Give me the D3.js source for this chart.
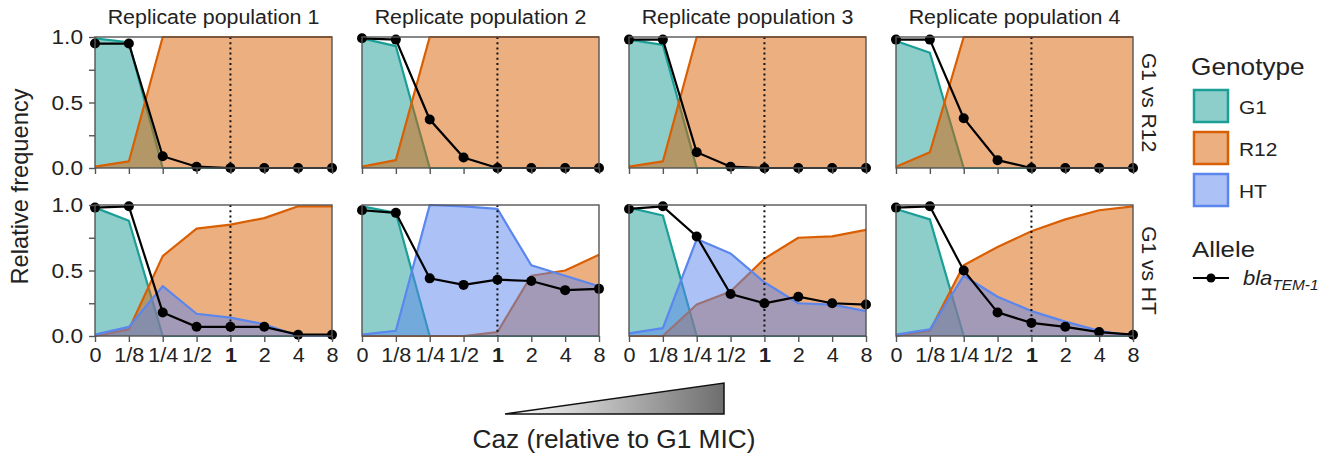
<!DOCTYPE html>
<html><head><meta charset="utf-8">
<script src="https://cdn.jsdelivr.net/npm/d3@7"></script>
<style>
body{margin:0;background:#fff}
svg{display:block}
text{font-family:"Liberation Sans",Arial,sans-serif;fill:#222}
</style>
</head><body>
<svg id="c" width="1340" height="457"></svg>
<script>
// ---------- data ----------
const doses = ["0","1/8","1/4","1/2","1","2","4","8"];
const replicates = ["Replicate population 1","Replicate population 2","Replicate population 3","Replicate population 4"];
const comparisons = ["G1 vs R12","G1 vs HT"];
const genotypes = ["G1","R12","HT"];
const genotypeColors = ["#1b9e96","#d95f02","#5a86ee"];

// G1 vs R12 (top row), one array per replicate population
const topG1 = [
  [0.99,0.96,0,0,0,0,0,0],
  [0.99,0.93,0,0,0,0,0,0],
  [0.98,0.94,0,0,0,0,0,0],
  [0.97,0.88,0,0,0,0,0,0]
];
const topR12 = [
  [0.01,0.05,1,1,1,1,1,1],
  [0.01,0.06,1,1,1,1,1,1],
  [0.01,0.05,1,1,1,1,1,1],
  [0.01,0.12,1,1,1,1,1,1]
];
const topAllele = [
  [0.95,0.95,0.09,0.01,0,0,0,0],
  [0.99,0.98,0.37,0.08,0,0,0,0],
  [0.98,0.98,0.12,0.01,0,0,0,0],
  [0.98,0.98,0.38,0.06,0,0,0,0]
];

// G1 vs HT (bottom row)
const botG1 = [
  [0.98,0.88,0,0,0,0,0,0],
  [0.99,0.94,0,0,0,0,0,0],
  [0.98,0.92,0,0,0,0,0,0],
  [0.97,0.89,0,0,0,0,0,0]
];
const botR12 = [
  [0,0.05,0.61,0.82,0.85,0.90,0.99,0.99],
  [0,0,0,0,0.03,0.46,0.50,0.62],
  [0,0,0.24,0.34,0.59,0.75,0.76,0.81],
  [0,0.04,0.54,0.68,0.80,0.89,0.96,0.99]
];
const botHT = [
  [0.01,0.07,0.38,0.17,0.14,0.09,0,0],
  [0.01,0.04,1.0,0.99,0.97,0.54,0.46,0.38],
  [0.02,0.06,0.74,0.63,0.41,0.25,0.24,0.19],
  [0.01,0.05,0.46,0.30,0.19,0.11,0.04,0.0]
];
const botAllele = [
  [0.98,0.99,0.18,0.07,0.07,0.07,0.01,0.01],
  [0.96,0.94,0.44,0.39,0.43,0.42,0.35,0.36],
  [0.97,0.99,0.76,0.32,0.25,0.30,0.25,0.24],
  [0.98,0.99,0.50,0.18,0.10,0.07,0.03,0.01]
];

const yTicks = [0,0.25,0.5,0.75,1];
const yTickLabels = ["0.0","","0.5","","1.0"];

// ---------- layout ----------
const svg = d3.select("#c");
const L=95, PW=237, GX=30, T=37, PH=131, GY=37;
const x = d3.scaleLinear().domain([0,7]).range([0,PW]);
const y = d3.scaleLinear().domain([0,1]).range([PH,0]);
const alpha = 0.5;

function txt(parent, str, tx, ty, size, sx, opts={}){
  const t = parent.append("text")
    .attr("transform", `translate(${tx},${ty}) ${opts.rot?`rotate(${opts.rot})`:""} scale(${sx},1)`)
    .style("font-size", size+"px")
    .attr("text-anchor", opts.anchor||"start")
    .text(str);
  if(opts.italic) t.style("font-style","italic");
  return t;
}

const area = d3.area().x((d,i)=>x(i)).y0(y(0)).y1(d=>y(d));
const line = d3.line().x((d,i)=>x(i)).y(d=>y(d));

const rows = [
  {series:[topG1, topR12], allele: topAllele},
  {series:[botG1, botR12, botHT], allele: botAllele}
];

rows.forEach((row, r) => {
  for(let c=0;c<4;c++){
    const g = svg.append("g").attr("transform",`translate(${L+c*(PW+GX)},${T+r*(PH+GY)})`);
    g.append("rect").attr("width",PW).attr("height",PH).attr("fill","#fff");
    row.series.forEach((s, k) => {
      g.append("path").datum(s[c]).attr("d",area)
        .attr("fill",genotypeColors[k]).attr("fill-opacity",alpha);
      g.append("path").datum(s[c]).attr("d",line)
        .attr("fill","none").attr("stroke",genotypeColors[k]).attr("stroke-width",2.2)
        .attr("stroke-linejoin","round");
    });
    g.append("line").attr("x1",x(4)).attr("x2",x(4)).attr("y1",0).attr("y2",PH)
      .attr("stroke","#111").attr("stroke-width",2).attr("stroke-dasharray","2,3.2");
    g.append("path").datum(row.allele[c]).attr("d",line)
      .attr("fill","none").attr("stroke","#000").attr("stroke-width",2.2);
    g.selectAll("circle.pt").data(row.allele[c]).enter().append("circle")
      .attr("cx",(d,i)=>x(i)).attr("cy",d=>y(d)).attr("r",5).attr("fill","#000");
    g.append("rect").attr("width",PW).attr("height",PH).attr("fill","none")
      .attr("stroke","#555").attr("stroke-width",1.4);

    // x axis
    const xa = g.append("g").attr("transform",`translate(0,${PH})`)
      .call(d3.axisBottom(x).tickValues(d3.range(8)).tickSize(6).tickPadding(5)
        .tickFormat(i => r===1 ? doses[i] : ""));
    xa.select(".domain").remove();
    xa.selectAll(".tick line").attr("stroke","#555").attr("stroke-width",1.4);
    xa.selectAll(".tick text").style("font-size","21px").attr("fill","#222")
      .style("font-family",'"Liberation Sans",Arial,sans-serif')
      .attr("transform","scale(1.03,1)")
      .style("font-weight",(d)=> d===4 ? "bold" : "normal");

    if(c===0){
      const ya = g.append("g").call(d3.axisLeft(y).tickValues(yTicks).tickSize(6).tickPadding(6)
        .tickFormat((v,i)=>yTickLabels[i]));
      ya.select(".domain").remove();
      ya.selectAll(".tick line").attr("stroke","#555").attr("stroke-width",1.4);
      ya.selectAll(".tick text").style("font-size","21px").attr("fill","#222")
        .style("font-family",'"Liberation Sans",Arial,sans-serif')
        .attr("x",-12/1.08).attr("transform","scale(1.08,1)");
    }
    if(r===0){
      txt(svg, replicates[c], L+c*(PW+GX)+PW/2, 24, 20, 1.07, {anchor:"middle"});
    }
  }
  // strip label
  txt(svg, comparisons[r], L+3*(PW+GX)+PW+9, T+r*(PH+GY)+PH/2, 21, 1.0, {anchor:"middle", rot:90});
});

// y axis title
txt(svg, "Relative frequency", 28, T+(2*PH+GY)/2, 23, 1.03, {anchor:"middle", rot:-90});

// ---------- legend ----------
const lg = svg.append("g");
txt(lg, "Genotype", 1191, 75, 23, 1.14);
genotypes.forEach((gname, i) => {
  const yy = 90 + i*42;
  lg.append("rect").attr("x",1194).attr("y",yy).attr("width",34).attr("height",32)
    .attr("fill",genotypeColors[i]).attr("fill-opacity",alpha)
    .attr("stroke",genotypeColors[i]).attr("stroke-width",2.5);
  txt(lg, gname, 1239, yy+24, 19, 1.1);
});
txt(lg, "Allele", 1192, 257, 23, 1.12);
lg.append("line").attr("x1",1193).attr("x2",1229).attr("y1",278).attr("y2",278)
  .attr("stroke","#000").attr("stroke-width",2.2);
lg.append("circle").attr("cx",1211).attr("cy",278).attr("r",4.5).attr("fill","#000");
const bt = lg.append("text").attr("transform","translate(1243,285) scale(1.1,1)")
  .style("font-size","20px").style("font-style","italic");
bt.append("tspan").text("bla");
bt.append("tspan").attr("dy",5).style("font-size","14px").text("TEM-1");

// ---------- concentration triangle ----------
const defs = svg.append("defs");
const grad = defs.append("linearGradient").attr("id","tri").attr("x1","0%").attr("x2","100%");
grad.append("stop").attr("offset","0%").attr("stop-color","#ffffff");
grad.append("stop").attr("offset","100%").attr("stop-color","#6e6e6e");
svg.append("path").attr("d","M505,414 L724,383 L724,414 Z")
  .attr("fill","url(#tri)").attr("stroke","#111").attr("stroke-width",1.5).attr("stroke-linejoin","miter");
txt(svg, "Caz (relative to G1 MIC)", 614, 448, 25, 1.05, {anchor:"middle"});
</script>
</body></html>
